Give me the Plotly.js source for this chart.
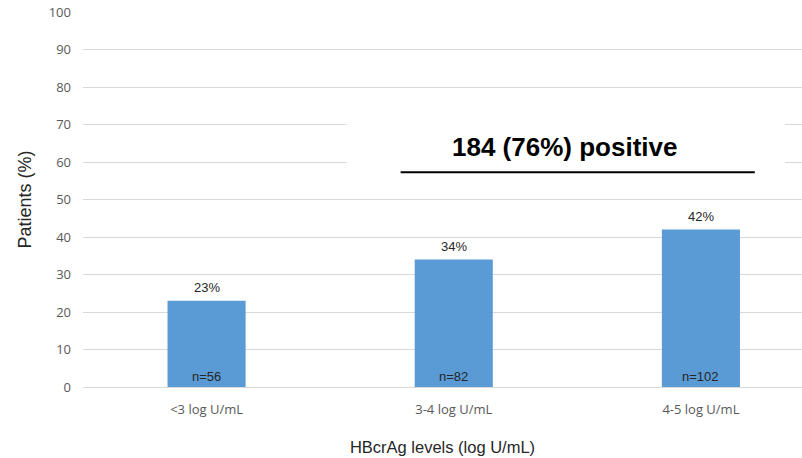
<!DOCTYPE html>
<html>
<head>
<meta charset="utf-8">
<script src="https://cdn.plot.ly/plotly-3.0.1.min.js"></script>
<style>html,body{margin:0;padding:0;background:#fff;}#chart{width:802px;height:458px;}</style>
</head>
<body>
<div id="chart"></div>
<script>
const categories = ["<3 log U/mL", "3-4 log U/mL", "4-5 log U/mL"];
const percents = [23, 34, 42];
const nValues = [56, 82, 102];
const yTicks = [0, 10, 20, 30, 40, 50, 60, 70, 80, 90, 100];
const headline = "184 (76%) positive";

const labelFont = {family: "Liberation Sans, Arial, sans-serif", size: 13, color: "#262626"};

const trace = {
  type: "bar",
  x: categories,
  y: percents,
  width: 0.316,
  marker: {color: "#5B9BD5"},
  hoverinfo: "none"
};

const pctAnn = categories.map((c, i) => ({
  x: c, y: percents[i], xref: "x", yref: "y",
  text: percents[i] + "%", showarrow: false,
  yanchor: "bottom", yshift: 4, font: labelFont
}));

const nAnn = categories.map((c, i) => ({
  x: c, y: 0, xref: "x", yref: "y",
  text: "n=" + nValues[i], showarrow: false,
  yanchor: "bottom", yshift: 1, font: labelFont
}));

const layout = {
  width: 802, height: 458,
  margin: {l: 83, r: 0, t: 12, b: 71},
  paper_bgcolor: "#fff", plot_bgcolor: "#fff",
  showlegend: false,
  xaxis: {
    range: [-0.5, 2.409],
    showgrid: false, zeroline: false, showline: false,
    ticks: "",
    tickfont: {family: "Open Sans, sans-serif", size: 13, color: "#595959"},
    ticklabelstandoff: 13,
    title: {text: "HBcrAg levels (log U/mL)", font: {family: "Liberation Sans, Arial, sans-serif", size: 16.5, color: "#262626"}, standoff: 24}
  },
  yaxis: {
    range: [0, 100],
    tickvals: yTicks,
    showgrid: true, gridcolor: "#d9d9d9", gridwidth: 1,
    zeroline: true, zerolinecolor: "#d9d9d9", zerolinewidth: 1,
    showline: false, ticks: "",
    tickfont: {family: "Open Sans, sans-serif", size: 13, color: "#595959"},
    ticklabelstandoff: 11,
    title: {text: "Patients (%)", font: {family: "Liberation Sans, Arial, sans-serif", size: 18, color: "#262626"}, standoff: 12}
  },
  shapes: [
    {type: "rect", xref: "x", yref: "y", x0: 0.567, x1: 2.34, y0: 56, y1: 73, fillcolor: "#fff", line: {width: 0}, layer: "above"},
    {type: "line", xref: "x", yref: "y", x0: 0.785, x1: 2.218, y0: 57.3, y1: 57.3, line: {color: "#000", width: 2}, layer: "above"}
  ],
  annotations: pctAnn.concat(nAnn).concat([
    {x: 1.449, y: 64, xref: "x", yref: "y", text: "<b>" + headline + "</b>", showarrow: false,
     font: {family: "Liberation Sans, Arial, sans-serif", size: 26, color: "#000"}}
  ])
};

Plotly.newPlot("chart", [trace], layout, {staticPlot: true, displayModeBar: false});
</script>
</body>
</html>
